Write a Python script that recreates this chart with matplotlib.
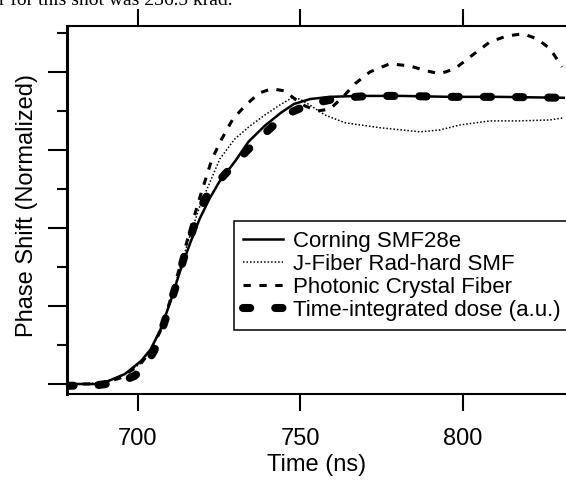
import numpy as np
import matplotlib
matplotlib.use('Agg')
import matplotlib.pyplot as plt
from matplotlib.ticker import MultipleLocator, NullFormatter

plt.rcParams['font.family'] = ['Liberation Sans', 'DejaVu Sans']

# ── data (time in ns, phase shift normalised) ────────────────────────────────
t_corning = [678, 687, 691, 696, 701, 704, 707, 710, 713, 716, 719, 722, 725,
             730, 734, 739, 744, 748, 753, 759, 768, 781, 796, 811, 831]
y_corning = [0.0, 0.0, 0.010, 0.032, 0.074, 0.112, 0.176, 0.263, 0.362, 0.449,
             0.529, 0.593, 0.647, 0.715, 0.776, 0.827, 0.869, 0.897, 0.913,
             0.920, 0.923, 0.923, 0.920, 0.920, 0.917]

t_jfiber = [678.2, 688.3, 694.5, 700.6, 703.7, 706.8, 709.8, 712.9, 716.0, 719.1,
            722.2, 725.2, 729.8, 734.5, 739.1, 743.7, 747.4, 749.8, 752.9, 757.5,
            763.7, 774.5, 786.8, 792.9, 799.1, 808.3, 817.5, 826.8, 831.0]
y_jfiber = [0.0, 0.003, 0.022, 0.064, 0.106, 0.167, 0.256, 0.369, 0.474, 0.571,
            0.647, 0.721, 0.785, 0.827, 0.862, 0.894, 0.917, 0.913, 0.894, 0.862,
            0.837, 0.821, 0.808, 0.814, 0.830, 0.843, 0.843, 0.846, 0.853]

t_pcf = [678.2, 688.3, 694.5, 700.6, 703.7, 706.8, 709.8, 712.9, 716.0, 719.1,
         722.8, 725.8, 729.2, 733.5, 737.5, 741.2, 745.2, 748.3, 751.4, 755.4,
         759.1, 763.1, 766.8, 771.4, 777.5, 783.7, 788.9, 792.9, 797.5, 802.2,
         808.3, 813.5, 818.5, 822.8, 826.8, 830.5]
y_pcf = [0.0, 0.0, 0.019, 0.061, 0.103, 0.167, 0.263, 0.375, 0.490, 0.599,
         0.721, 0.785, 0.849, 0.897, 0.933, 0.946, 0.939, 0.913, 0.891, 0.875,
         0.881, 0.920, 0.962, 1.000, 1.026, 1.019, 1.003, 0.994, 1.010, 1.048,
         1.096, 1.115, 1.122, 1.106, 1.074, 1.016]

t_dose = [678, 688, 694.5, 699, 702, 705, 708, 711.4, 714.5, 717.5, 720.6, 724.6,
          728.9, 733.5, 738.2, 742.2, 746.8, 752.9, 762.2, 771.4, 780.6, 796,
          811.4, 831.0]
y_dose = [-0.006, -0.003, 0.006, 0.026, 0.054, 0.106, 0.192, 0.304, 0.417, 0.513,
          0.593, 0.647, 0.696, 0.747, 0.795, 0.833, 0.869, 0.897, 0.917, 0.923,
          0.923, 0.920, 0.920, 0.917]

labels = ['Corning SMF28e', 'J-Fiber Rad-hard SMF', 'Photonic Crystal Fiber',
          'Time-integrated dose (a.u.)']
x_ticks = [700, 750, 800]

fig = plt.figure(figsize=(5.66, 4.81), dpi=100)
ax = fig.add_axes([67 / 566, 1 - 395 / 481, 1 - 67 / 566, (395 - 27) / 481])

ax.plot(t_corning, y_corning, color='black', lw=1.8, label=labels[0])
ax.plot(t_jfiber, y_jfiber, color='black', lw=1.1, linestyle=(0, (1, 1.3)),
        label=labels[1])
ax.plot(t_pcf, y_pcf, color='black', lw=2.2, linestyle=(0, (2.4, 2.8)),
        label=labels[2])
ax.plot(t_dose, y_dose, color='black', lw=5.8, linestyle=(0, (0.9, 3.1)),
        dash_capstyle='round', label=labels[3])

ax.set_xlim(678.2, 831.7)
ax.set_ylim(-0.032, 1.147)
ax.set_xticks(x_ticks)
ax.yaxis.set_major_locator(MultipleLocator(0.25))
ax.yaxis.set_minor_locator(MultipleLocator(0.125))
ax.yaxis.set_major_formatter(NullFormatter())
ax.tick_params(axis='x', direction='out', length=12, width=1.5, top=True,
               labelsize=17, pad=11.5)
ax.tick_params(axis='y', which='major', direction='out', length=13.5, width=1.5)
ax.tick_params(axis='y', which='minor', direction='out', length=7, width=1.5)
ax.spines['right'].set_visible(False)
ax.spines['left'].set_linewidth(2.2)
ax.spines['bottom'].set_linewidth(1.5)
ax.spines['top'].set_linewidth(1.5)

ax.set_xlabel('Time (ns)', fontsize=17, labelpad=3)
ax.set_ylabel('Phase Shift (Normalized)', fontsize=17, labelpad=4)
ax.yaxis.label.set_y(0.516)

leg = ax.legend(loc='upper left', bbox_to_anchor=(0.3347, 0.4701),
                borderaxespad=0, fontsize=16, frameon=True, fancybox=False,
                framealpha=1, edgecolor='black', handlelength=1.8,
                handletextpad=0.45, labelspacing=0.09, borderpad=0.42)
leg.get_frame().set_linewidth(1.1)

fig.text(-0.002, 1 - 5 / 481, 'r for this shot was 236.5 krad.',
         family='Liberation Serif', fontsize=14, va='baseline', ha='left')

fig.savefig('out.png', dpi=100)
